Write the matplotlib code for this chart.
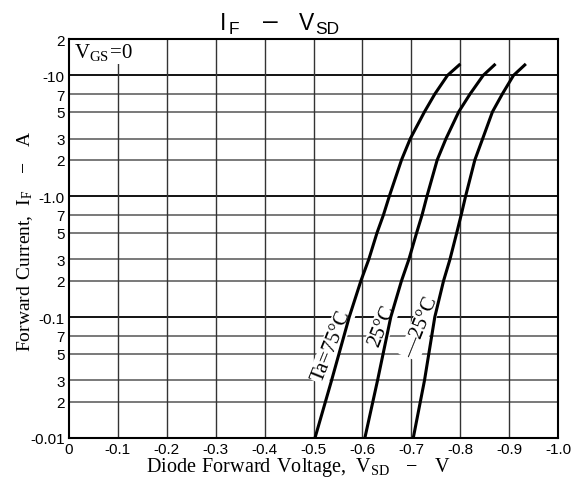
import numpy as np
import matplotlib
matplotlib.use("Agg")
from matplotlib import pyplot as plt
from matplotlib.ticker import FixedLocator, FixedFormatter

plt.rcParams["mathtext.fontset"] = "custom"
plt.rcParams["mathtext.rm"] = "Liberation Serif"
plt.rcParams["mathtext.sf"] = "Liberation Sans"
plt.rcParams["font.family"] = "Liberation Sans"

# forward current (A) and diode forward voltage magnitude (V) for each temperature
i_f = [0.01, 0.03, 0.1, 0.2, 0.3, 0.5, 0.7, 1.0, 2, 3, 5, 7, 10, 12.2]
v_75 = [0.503, 0.537, 0.573, 0.597, 0.613, 0.630, 0.643, 0.655, 0.680, 0.698, 0.727, 0.748, 0.774, 0.798]
v_25 = [0.605, 0.631, 0.658, 0.680, 0.695, 0.711, 0.722, 0.732, 0.753, 0.771, 0.797, 0.820, 0.847, 0.870]
v_m25 = [0.704, 0.727, 0.748, 0.766, 0.779, 0.793, 0.802, 0.811, 0.830, 0.846, 0.866, 0.886, 0.909, 0.932]

x_ticks = [0, 0.1, 0.2, 0.3, 0.4, 0.5, 0.6, 0.7, 0.8, 0.9, 1.0]
x_labels = ["0", "-0.1", "-0.2", "-0.3", "-0.4", "-0.5", "-0.6", "-0.7", "-0.8", "-0.9", "-1.0"]
y_ticks = [0.01, 0.02, 0.03, 0.05, 0.07, 0.1, 0.2, 0.3, 0.5, 0.7, 1, 2, 3, 5, 7, 10, 20]
y_labels = ["-0.01", "2", "3", "5", "7", "-0.1", "2", "3", "5", "7", "-1.0", "2", "3", "5", "7", "-10", "2"]

W, H = 580, 485
fig = plt.figure(figsize=(W / 100, H / 100), dpi=100)
ax = fig.add_axes([69 / W, 1 - 439 / H, 489 / W, 399 / H])
ax.set_yscale("log")
ax.set_xlim(0, 1.0)
ax.set_ylim(0.01, 20)

# grid: decades darker than the in-between lines
for y in y_ticks[1:-1]:
    dec = y in (0.1, 1, 10)
    ax.axhline(y, color="black" if dec else "#555555", lw=1.3 if dec else 1.1, zorder=1)
for x in x_ticks[1:-1]:
    ax.axvline(x, color="#333333", lw=1.0, zorder=1)

ax.plot(v_75, i_f, color="black", lw=2.2, zorder=3, solid_joinstyle="round")
ax.plot(v_25, i_f, color="black", lw=2.2, zorder=3, solid_joinstyle="round")
ax.plot(v_m25, i_f, color="black", lw=2.2, zorder=3, solid_joinstyle="round")

ax.xaxis.set_major_locator(FixedLocator(x_ticks))
ax.xaxis.set_major_formatter(FixedFormatter(x_labels))
ax.yaxis.set_major_locator(FixedLocator(y_ticks))
ax.yaxis.set_major_formatter(FixedFormatter(y_labels))
ax.yaxis.set_minor_locator(FixedLocator([]))
ax.tick_params(length=0, labelsize=11, pad=3)
for s in ax.spines.values():
    s.set_linewidth(1.5)

box = dict(facecolor="white", edgecolor="none", pad=1)
ax.text(0.537, 0.058, "Ta=75°C", rotation=68, ha="center", va="center",
        family="Liberation Serif", fontsize=15, bbox=box, zorder=2)
ax.text(0.641, 0.086, "25°C", rotation=68, ha="center", va="center",
        family="Liberation Serif", fontsize=15, bbox=box, zorder=2)
ax.text(0.720, 0.083, "—25°C", rotation=68, ha="center", va="center",
        family="Liberation Serif", fontsize=15, bbox=box, zorder=2)
# white box hides the grid line under the label but stays under the frame
ax.text(74 / W, 1 - 58 / H, r"$\mathrm{V_{GS}\!=\!0}$", transform=fig.transFigure,
        ha="left", va="baseline", fontsize=15,
        bbox=dict(facecolor="white", edgecolor="none", pad=1.5), zorder=2)

# title built from pieces so the subscripts sit low like the datasheet
fig.text(220 / W, 1 - 30 / H, "I", fontsize=16.5, ha="left", va="baseline")
fig.text(229 / W, 1 - 34 / H, "F", fontsize=12.5, ha="left", va="baseline")
fig.text(270 / W, 1 - 22 / H, "–", fontsize=19, ha="center", va="center")
fig.text(299 / W, 1 - 30 / H, "V", fontsize=16.5, ha="left", va="baseline")
fig.text(315 / W, 1 - 34 / H, "SD", fontsize=12.5, ha="left", va="baseline")

fig.text(298 / W, 1 - 468 / H, r"$\mathrm{Diode\ Forward\ Voltage,\ V_{SD}\ \ -\ \ V}$",
         ha="center", va="center", fontsize=14.5)
fig.text(25 / W, 1 - 241 / H, r"$\mathrm{Forward\ Current,\ I_F\ \ -\ \ A}$",
         ha="center", va="center", rotation=90, fontsize=14)

fig.savefig("out.png", dpi=100)
